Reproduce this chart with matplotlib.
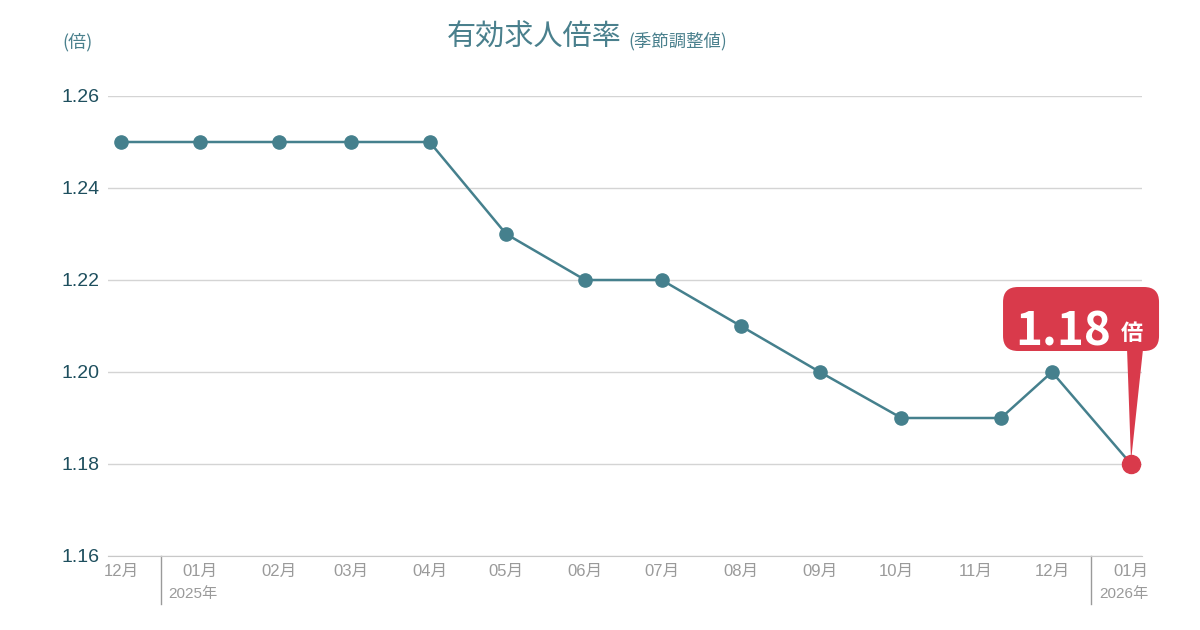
import matplotlib.pyplot as plt
import matplotlib.dates as mdates
from matplotlib.patches import FancyBboxPatch, Polygon
from matplotlib.lines import Line2D
import datetime as dt

plt.rcParams['font.family'] = ['Liberation Sans', 'Noto Sans CJK JP', 'DejaVu Sans']

# data
dates = ['2024-12-01', '2025-01-01', '2025-02-01', '2025-03-01', '2025-04-01',
         '2025-05-01', '2025-06-01', '2025-07-01', '2025-08-01', '2025-09-01',
         '2025-10-03', '2025-11-11', '2025-12-01', '2026-01-01']
values = [1.25, 1.25, 1.25, 1.25, 1.25, 1.23, 1.22, 1.22, 1.21, 1.20,
          1.19, 1.19, 1.20, 1.18]
tick_dates = ['2024-12-01', '2025-01-01', '2025-02-01', '2025-03-01', '2025-04-01',
              '2025-05-01', '2025-06-01', '2025-07-01', '2025-08-01', '2025-09-01',
              '2025-10-01', '2025-11-01', '2025-12-01', '2026-01-01']
tick_labels = ['12月', '01月', '02月', '03月', '04月', '05月', '06月', '07月',
               '08月', '09月', '10月', '11月', '12月', '01月']
year_marks = [('2025-01-01', '2025年'), ('2026-01-01', '2026年')]
y_ticks = [1.16, 1.18, 1.20, 1.22, 1.24, 1.26]

teal = '#45808d'
red = '#d93a4b'
W, H = 1200, 630

x = [mdates.date2num(dt.date.fromisoformat(d)) for d in dates]
xt = [mdates.date2num(dt.date.fromisoformat(d)) for d in tick_dates]

fig = plt.figure(figsize=(12, 6.3), dpi=100)
ax = fig.add_axes([108 / W, 1 - 556 / H, (1142 - 108) / W, (556 - 96) / H])

ax.plot(x[:-1], values[:-1], color=teal, lw=1.8, marker='o', ms=9.5,
        zorder=3, clip_on=False)
ax.plot(x[-2:], values[-2:], color=teal, lw=1.8, zorder=3, clip_on=False)
ax.plot(x[-1], values[-1], 'o', color=red, ms=13, zorder=4, clip_on=False)

ax.set_xlim(xt[0] - 5.1, xt[-1] + 4.3)
ax.set_ylim(1.16, 1.26)
ax.set_yticks(y_ticks)
ax.set_yticklabels([f'{v:.2f}' for v in y_ticks], fontsize=14, color='#1e4f5e')
ax.yaxis.grid(True, color='#d4d4d4', lw=1)
ax.set_axisbelow(True)
ax.set_xticks(xt)
ax.set_xticklabels(tick_labels, fontsize=12, color='#9a9a9a')
ax.tick_params(axis='both', length=0)
ax.tick_params(axis='x', pad=6)
ax.tick_params(axis='y', pad=6)
for s in ['top', 'right', 'left']:
    ax.spines[s].set_visible(False)
ax.spines['bottom'].set_color('#c8c8c8')

# year separators
for d, lab in year_marks:
    xd = mdates.date2num(dt.date.fromisoformat(d))
    i = xt.index(xd)
    xs = (xt[i] + xt[i - 1]) / 2
    ax.add_line(Line2D([xs, xs], [0, -0.105], transform=ax.get_xaxis_transform(),
                       color='#9a9a9a', lw=1, clip_on=False))
    ax.text(xs + 3, -0.067, lab, transform=ax.get_xaxis_transform(),
            fontsize=11, color='#9a9a9a', ha='left', va='top',
            family=['Liberation Sans Narrow', 'Liberation Sans', 'Noto Sans CJK JP'])

# titles
fig.text(622 / W, 1 - 38 / H, '有効求人倍率', fontsize=21, color='#4a808d',
         ha='right', va='center', family=['Noto Sans CJK JP'])
fig.text(628 / W, 1 - 41 / H, '(季節調整値)', fontsize=12.5, color='#4a808d',
         ha='left', va='center', family=['Noto Sans CJK JP'])
fig.text(62 / W, 1 - 42 / H, '(倍)', fontsize=13, color='#4a808d',
         ha='left', va='center', family=['Noto Sans CJK JP'])

# callout
px, py = fig.transFigure.inverted().transform(ax.transData.transform((x[-1], values[-1])))


def fx(dx):
    return px + dx / W


def fy(dy):
    return py + dy / H


box = FancyBboxPatch((fx(-128), fy(113)), 156 / W, 64 / H,
                     boxstyle='round,pad=0,rounding_size=' + str(15 / W),
                     mutation_aspect=W / H, transform=fig.transFigure,
                     facecolor=red, edgecolor='none', zorder=5)
fig.patches.append(box)
tri = Polygon([(fx(-4), fy(115)), (fx(12), fy(115)), (fx(0), fy(3))],
              closed=True, transform=fig.transFigure, facecolor=red,
              edgecolor='none', zorder=5)
fig.patches.append(tri)
fig.text(fx(-20), fy(118), f'{values[-1]:.2f}', fontsize=33, color='white',
         fontweight='bold', ha='right', va='baseline', zorder=6,
         family=['Noto Sans CJK JP'])
fig.text(fx(-10), fy(124), '倍', fontsize=16, color='white', zorder=6,
         fontweight='bold', ha='left', va='baseline', family=['Noto Sans CJK JP'])

fig.savefig('out.png', dpi=100)
